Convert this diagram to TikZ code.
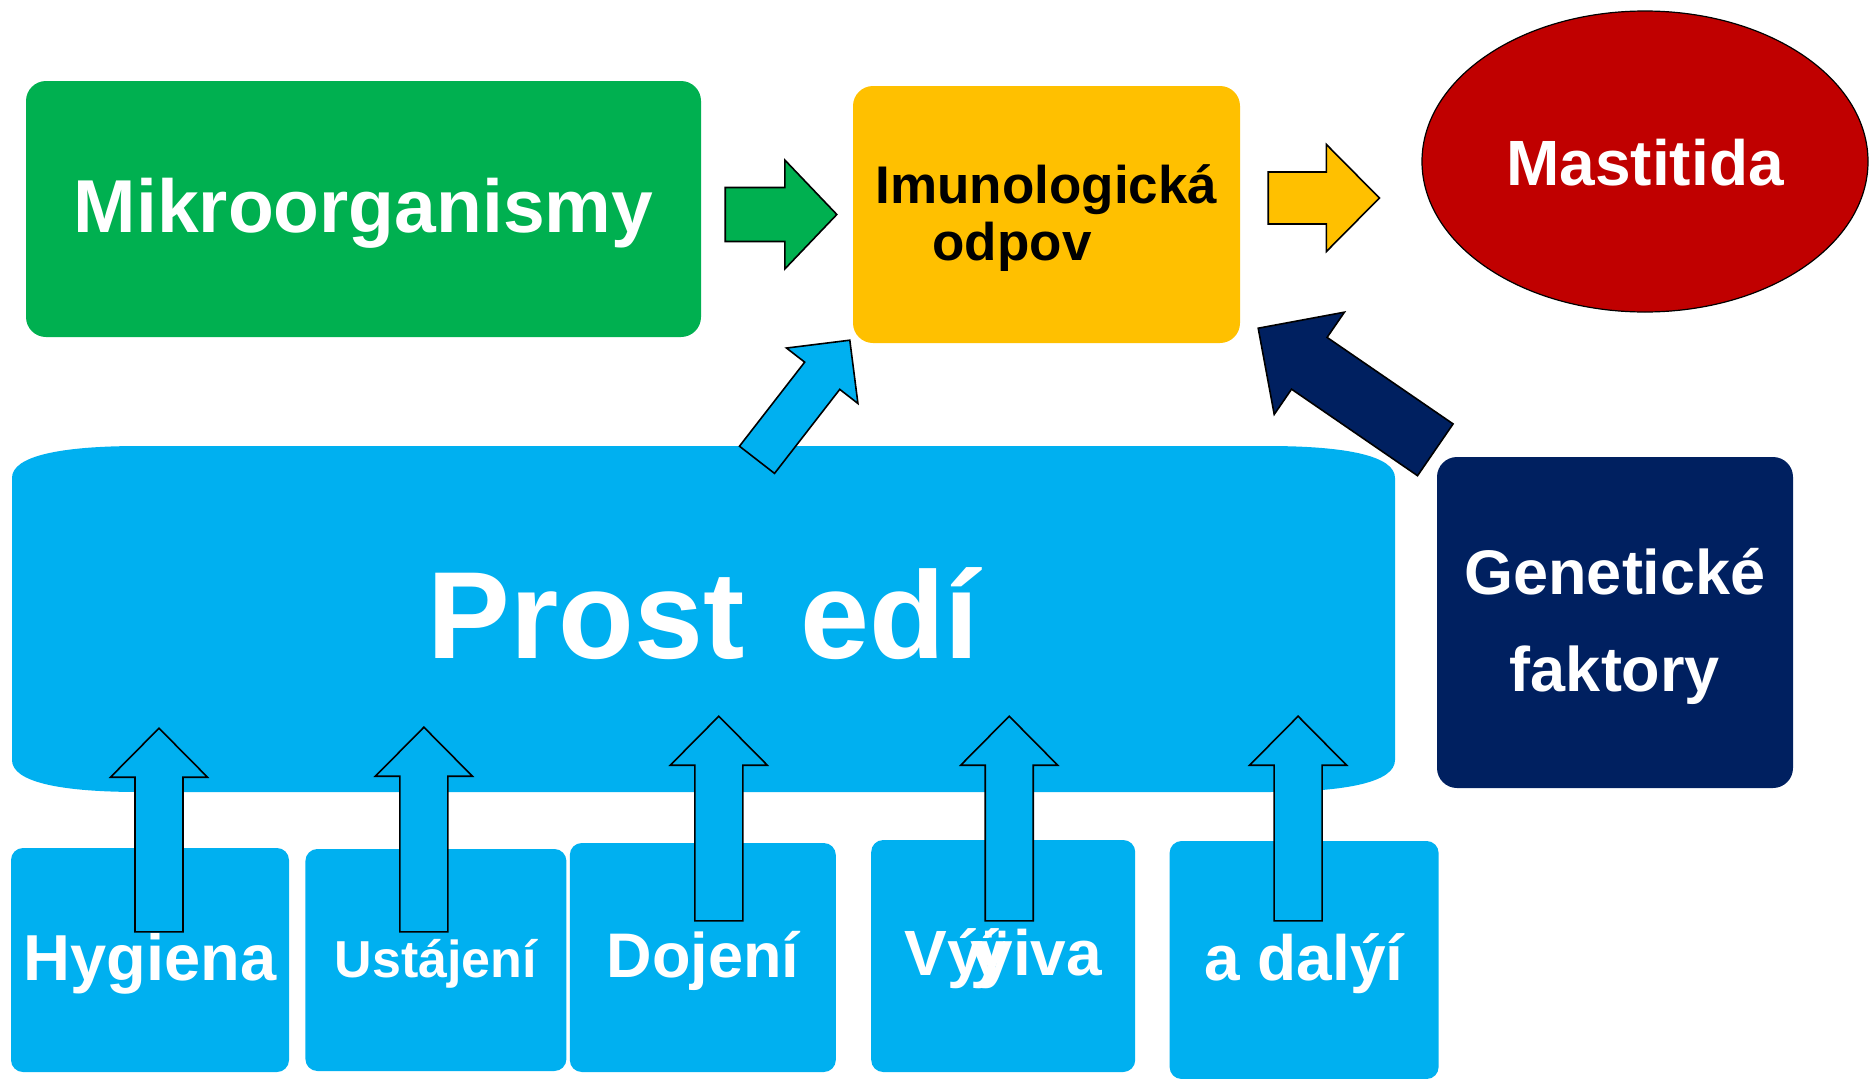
\documentclass[tikz,border=0pt]{standalone}
\usepackage{fontspec}
\setmainfont{Liberation Sans}
\usepackage{tikz}
\usetikzlibrary{shapes.geometric, positioning, calc}
\definecolor{microgreen}{HTML}{00B050}
\definecolor{immuneyellow}{HTML}{FFC000}
\definecolor{mastired}{HTML}{C00000}
\definecolor{genenavy}{HTML}{002060}
\definecolor{envblue}{HTML}{00B0F0}
\tikzstyle{box} = [rectangle, rounded corners=20pt, inner sep=0pt, text centered, text=white, text depth=0pt]
\tikzstyle{factor} = [box, rounded corners=12pt, fill=envblue]
\tikzset{
  blockarrow/.style n args={3}{draw=black, line width=1.6pt, to path={
    ($(\tikztostart)!#1!90:(\tikztotarget)$)
    -- ($(\tikztotarget)!#3!(\tikztostart)!#1!90:(\tikztotarget)$)
    -- ($(\tikztotarget)!#3!(\tikztostart)!#2!90:(\tikztotarget)$)
    -- (\tikztotarget)
    -- ($(\tikztotarget)!#3!(\tikztostart)!#2!-90:(\tikztotarget)$)
    -- ($(\tikztotarget)!#3!(\tikztostart)!#1!-90:(\tikztotarget)$)
    -- ($(\tikztostart)!#1!-90:(\tikztotarget)$)
    -- cycle}}
}

\begin{document}
\begin{tikzpicture}[x=1pt, y=-1pt]
\useasboundingbox (0,0) rectangle (1869,1079);
% Entities
\node (micro) [box, fill=microgreen, minimum width=675pt, minimum height=256pt, text height=46pt, font=\fontsize{75}{80}\selectfont\bfseries] at (363.5,209) {Mikroorganismy};
\node (immune) [box, fill=immuneyellow, text=black, align=center, minimum width=387pt, minimum height=257pt, text height=91pt, font=\fontsize{53}{57}\selectfont\bfseries] at (1046.5,214.5) {Imunologická\\odpov\hspace*{1.3em}};
\node (masti) [ellipse, draw=black, line width=1.2pt, fill=mastired, text=white, inner sep=0pt, minimum width=446pt, minimum height=301pt, text height=48pt, text depth=0pt, font=\fontsize{64}{70}\selectfont\bfseries] at (1645,161.5) {Mastitida};
\node (gen) [box, fill=genenavy, align=center, minimum width=356pt, minimum height=331pt, text height=137pt, font=\fontsize{63}{97}\selectfont\bfseries] at (1615,622.5) {Genetické\\faktory};

% Environment
\fill[envblue] (12,478) .. controls (12,456) and (60,446) .. (140,446) -- (1267,446) .. controls (1347,446) and (1395,456) .. (1395,478) -- (1395,760) .. controls (1395,782) and (1347,792) .. (1267,792) -- (140,792) .. controls (60,792) and (12,782) .. (12,760) -- cycle;
\node (env) [box, minimum width=1383pt, minimum height=346pt, text height=78pt, font=\fontsize{124}{130}\selectfont\bfseries] at (703.5,619) {Prost\hspace{0.45em}edí};

% Factors
\node (hyg) [factor, minimum width=278pt, minimum height=224pt, text height=40pt, font=\fontsize{65}{70}\selectfont\bfseries] at (150,960) {Hygiena};
\node (ust) [factor, right=16pt of hyg, minimum width=261pt, minimum height=222pt, text height=35pt, font=\fontsize{52}{60}\selectfont\bfseries] {Ustájení};
\node (doj) [factor, right=3pt of ust, yshift=2.5pt, minimum width=266pt, minimum height=229pt, text height=39pt, font=\fontsize{63}{70}\selectfont\bfseries] {Dojení};
\node (vyz) [factor, right=35pt of doj, yshift=1.5pt, minimum width=264pt, minimum height=232pt, text height=38pt, font=\fontsize{64}{70}\selectfont\bfseries] {Vý\kern-.19em ý\kern-.45em ÿiva};
\node (dal) [factor, right=34pt of vyz, yshift=-4pt, minimum width=269pt, minimum height=238pt, text height=40pt, font=\fontsize{64}{70}\selectfont\bfseries] {a dalýí};

% Arrow ends
\coordinate (g1) at ($(micro.east |- immune.west)+(24,0)$);
\coordinate (g2) at ($(immune.west)+(-16,0)$);
\coordinate (y1) at ($(immune.east)+(28,-16.5)$);
\coordinate (y2) at ($(masti.west)+(-42,36.5)$);
\coordinate (e1) at ($(env.north)+(53.5,14)$);
\coordinate (e2) at ($(immune.south west)+(-3,-3)$);
\coordinate (n1) at ($(gen.north west)+(-1.5,-7)$);
\coordinate (n2) at ($(immune.south east)+(18,-15)$);
\coordinate (hyg1) at ($(hyg.north)+(9,84)$);
\coordinate (hyg2) at ($(hyg.north |- env.south)+(9,-64)$);
\coordinate (ust1) at ($(ust.north)+(-12,83)$);
\coordinate (ust2) at ($(ust.north |- env.south)+(-12,-65)$);
\coordinate (doj1) at ($(doj.north)+(16,78)$);
\coordinate (doj2) at ($(doj.north |- env.south)+(16,-76)$);
\coordinate (vyz1) at ($(vyz.north)+(6,81)$);
\coordinate (vyz2) at ($(vyz.north |- env.south)+(6,-76)$);
\coordinate (dal1) at ($(dal.north)+(-6,80)$);
\coordinate (dal2) at ($(dal.north |- env.south)+(-6,-76)$);

% Relationships
\draw [blockarrow={27pt}{54.5pt}{52pt}, fill=microgreen] (g1) to (g2);
\draw [blockarrow={26pt}{53.5pt}{53pt}, fill=immuneyellow] (y1) to (y2);
\draw [blockarrow={22.2pt}{45.2pt}{45pt}, fill=envblue] (e1) to (e2);
\draw [blockarrow={31.4pt}{62pt}{62pt}, fill=genenavy] (n1) to (n2);
\draw [blockarrow={24pt}{48.5pt}{49pt}, fill=envblue] (hyg1) to (hyg2);
\draw [blockarrow={24pt}{48.5pt}{49pt}, fill=envblue] (ust1) to (ust2);
\draw [blockarrow={24pt}{48.5pt}{49pt}, fill=envblue] (doj1) to (doj2);
\draw [blockarrow={24pt}{48.5pt}{49pt}, fill=envblue] (vyz1) to (vyz2);
\draw [blockarrow={24pt}{48.5pt}{49pt}, fill=envblue] (dal1) to (dal2);
\end{tikzpicture}
\end{document}
